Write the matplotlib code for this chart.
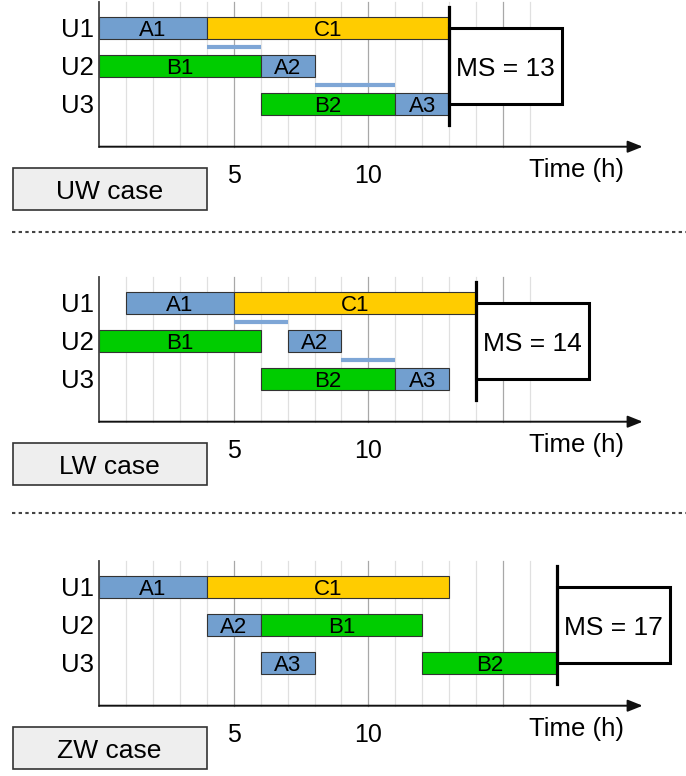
import matplotlib
matplotlib.use("Agg")
import matplotlib.pyplot as plt
from matplotlib.patches import Rectangle
from matplotlib.lines import Line2D

plt.rcParams['font.family'] = ['Liberation Sans', 'DejaVu Sans']

# Schedule data: (unit, task, start h, end h)
machines = ['U1', 'U2', 'U3']
cases = ['UW case', 'LW case', 'ZW case']
makespans = [13, 14, 17]

uw_tasks = [('U1', 'A1', 0, 4), ('U1', 'C1', 4, 13),
            ('U2', 'B1', 0, 6), ('U2', 'A2', 6, 8),
            ('U3', 'B2', 6, 11), ('U3', 'A3', 11, 13)]
lw_tasks = [('U1', 'A1', 1, 5), ('U1', 'C1', 5, 14),
            ('U2', 'B1', 0, 6), ('U2', 'A2', 7, 9),
            ('U3', 'B2', 6, 11), ('U3', 'A3', 11, 13)]
zw_tasks = [('U1', 'A1', 0, 4), ('U1', 'C1', 4, 13),
            ('U2', 'A2', 4, 6), ('U2', 'B1', 6, 12),
            ('U3', 'A3', 6, 8), ('U3', 'B2', 12, 17)]

# Waiting / transfer periods between units: (from, to, start, end)
uw_waits = [('U1', 'U2', 4, 6), ('U2', 'U3', 8, 11)]
lw_waits = [('U1', 'U2', 5, 7), ('U2', 'U3', 9, 11)]
zw_waits = []

x_ticks = [5, 10]
grid_hours = list(range(1, 17))

colors = {'A': '#729fcf', 'B': '#00cc00', 'C': '#ffcc00'}
row_y = {'U1': 3, 'U2': 2, 'U3': 1}

W, H = 686, 776
HOUR_PX = 26.9
ORIGIN_PX = 99.3
ROW_PX = 37.8
Y0 = -0.13           # x-axis level in row units
axis_px = [146.7, 421.7, 705.7]

fig = plt.figure(figsize=(W / 100, H / 100), dpi=100)

panels = [(uw_tasks, uw_waits), (lw_tasks, lw_waits), (zw_tasks, zw_waits)]

for i, (tasks, waits) in enumerate(panels):
    top_px = axis_px[i] - 150
    bot_px = axis_px[i] + 70
    ax = fig.add_axes([0, 1 - bot_px / H, 1, (bot_px - top_px) / H])
    ax.set_xlim(-ORIGIN_PX / HOUR_PX, (W - ORIGIN_PX) / HOUR_PX)
    ax.set_ylim(Y0 - 70 / ROW_PX, Y0 + 150 / ROW_PX)
    ax.axis('off')

    # grid
    for h in grid_hours:
        c = '#a8a8a8' if h % 5 == 0 else '#e0e0e0'
        ax.plot([h, h], [Y0, 3.71], color=c, lw=0.9, zorder=0)

    # axes
    ax.plot([0, 0], [Y0, 3.71], color='#444444', lw=1.3, zorder=3)
    ax.annotate('', xy=(20.2, Y0), xytext=(0, Y0),
                arrowprops=dict(arrowstyle='-|>,head_length=0.5,head_width=0.2',
                                mutation_scale=18, lw=1.4, color='#111111',
                                shrinkA=0, shrinkB=0), zorder=3)

    for m in machines:
        ax.text(-0.2, row_y[m] - 0.24, m, ha='right', va='baseline', fontsize=18.5)

    for m, name, s, e in tasks:
        ax.barh(row_y[m], e - s, left=s, height=0.58, color=colors[name[0]],
                edgecolor='#333333', linewidth=0.8, zorder=2)
        ax.text((s + e) / 2, row_y[m] - 0.2, name, ha='center', va='baseline',
                fontsize=16, zorder=4)

    for a, b, s, e in waits:
        yy = (row_y[a] + row_y[b]) / 2
        ax.plot([s, e], [yy, yy], color='#7ea6d6', lw=3, solid_capstyle='butt', zorder=2)

    for t in x_ticks:
        ax.text(t, Y0 - 0.95, str(t), ha='center', va='baseline', fontsize=18)
    ax.text(15.97, Y0 - 0.80, 'Time (h)', ha='left', va='baseline', fontsize=18.5)

    # makespan marker and box
    ms = makespans[i]
    ax.add_patch(Rectangle((ms, 1), 4.2, 2, facecolor='white', edgecolor='black',
                           lw=2.2, zorder=5))
    ax.plot([ms, ms], [0.44, 3.57], color='black', lw=2.3, zorder=6)
    ax.text(ms + 2.1, 1.75, f'MS = {ms}', ha='center', va='baseline',
            fontsize=19, zorder=7)

    # case label box
    ax.add_patch(Rectangle((-3.22, Y0 - 63.5 / ROW_PX), 7.21, 42 / ROW_PX,
                           facecolor='#eeeeee', edgecolor='#333333', lw=1.2,
                           clip_on=False, zorder=5))
    ax.text(0.38, Y0 - 52.6 / ROW_PX, cases[i], ha='center', va='baseline',
            fontsize=19, zorder=6)

# dashed separators between the cases
for y_px in [231.7, 513.3]:
    fig.add_artist(Line2D([12 / W, 1], [1 - y_px / H, 1 - y_px / H],
                          color='#444444', lw=1.5, ls=(0, (1.6, 1.6))))

fig.savefig('out.png', dpi=100)
